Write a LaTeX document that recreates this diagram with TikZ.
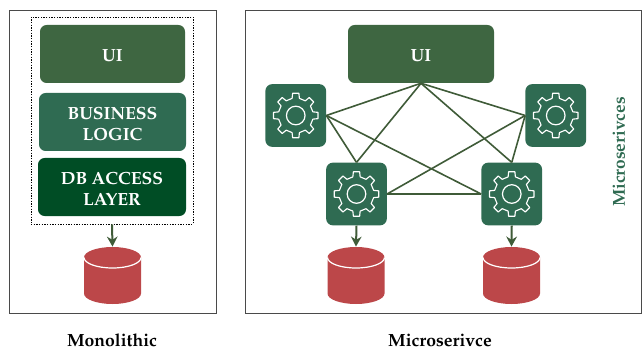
\documentclass[tikz,border=0pt]{standalone}
\usepackage[T1]{fontenc}
\usepackage{mathpazo}
\usetikzlibrary{arrows.meta}
\definecolor{uigreen}{HTML}{3E6641}
\definecolor{bizgreen}{HTML}{2F6B52}
\definecolor{dbgreen}{HTML}{004D25}
\definecolor{dbred}{HTML}{BC4749}
\definecolor{linkgreen}{HTML}{3F5B38}
\definecolor{framegrey}{HTML}{4A4A4A}
\newcommand\blockline[1]{\raisebox{-1.3pt}[\height][\depth]{#1}}
\tikzset{
  x=0.75pt,y=-0.75pt,
  frame/.style={draw=framegrey,line width=0.7pt,inner sep=0pt},
  block/.style={rounded corners=5pt,inner sep=0pt,text=white,align=center,font=\fontsize{13.2}{15.8}\selectfont\bfseries},
  gearbox/.style={fill=bizgreen,rounded corners=5pt,minimum width=45.5pt,minimum height=47pt,inner sep=0pt},
  dbnode/.style={minimum width=42.75pt,minimum height=43pt,inner sep=0pt},
  link/.style={draw=linkgreen,line width=1.2pt},
  flow/.style={draw=linkgreen,line width=1.5pt,-{Stealth[length=7.5pt,width=8pt]}},
  caption/.style={font=\fontsize{13.2}{16}\selectfont\bfseries,text=black},
  gear/.pic={
    \draw[white,line width=0.85pt,line join=round]
      (-12:17.5) \foreach \a in {0,45,...,315} {
        -- (\a-12:17.5) -- (\a-8:22.5) -- (\a+8:22.5) -- (\a+12:17.5)
      } -- cycle;
    \draw[white,line width=0.9pt] (0,0) circle[radius=9.3];
  },
  drum/.pic={
    \begin{scope}[y=0.75pt]
    \fill[dbred] (-28.5,18) -- (-28.5,-18) arc[start angle=180,end angle=360,x radius=28.5,y radius=10.5]
      -- (28.5,18) arc[start angle=0,end angle=180,x radius=28.5,y radius=10.5] -- cycle;
    \draw[white,line width=0.9pt] (-28.5,18) arc[start angle=180,end angle=360,x radius=28.5,y radius=10.5];
    \end{scope}
  }
}
\begin{document}
\begin{tikzpicture}
\useasboundingbox (0,0) rectangle (642,349);
\node[frame,minimum width=155.25pt,minimum height=227.25pt] (mono) at (112.5,161.5) {};
\node[frame,minimum width=297pt,minimum height=227.25pt] (micro) at (443,161.5) {};
\node[draw=black,dash pattern=on 0.9pt off 1.1pt,line width=0.5pt,minimum width=121.5pt,minimum height=155.25pt,inner sep=0pt] (layers) at (112,120.5) {};
\node[block,fill=uigreen,minimum width=108.75pt,minimum height=43.5pt] (ui1) at (112.5,54) {\blockline{UI}};
\node[block,fill=bizgreen,minimum width=110.25pt,minimum height=43.5pt] (biz) at (112.5,122) {\blockline{BUSINESS}\\\blockline{LOGIC}};
\node[block,fill=dbgreen,minimum width=111pt,minimum height=43.5pt] (dba) at (112,187) {\blockline{DB ACCESS}\\\blockline{LAYER}};
\node[dbnode] (db1) at (112.5,275.5) {};
\pic at (112.5,275.5) {drum};
\draw[flow] (layers.south) -- (db1.north);
\node[block,fill=uigreen,minimum width=109.5pt,minimum height=43.5pt] (ui2) at (421,54) {\blockline{UI}};
\node[gearbox] (tl) at (295.75,115.5) {};
\node[gearbox] (tr) at (555.75,115.5) {};
\node[gearbox] (bl) at (356.5,194) {};
\node[gearbox] (br) at (511.75,194) {};
\foreach \n in {tl,tr,bl,br} { \pic at (\n) {gear}; }
\draw[link] (ui2.south) -- (tl.east);
\draw[link] (ui2.south) -- (bl.north);
\draw[link] (ui2.south) -- (br.north);
\draw[link] (ui2.south) -- (tr.west);
\draw[link] (tl.east) -- (bl.north);
\draw[link] (tl.east) -- (br.west);
\draw[link] (tr.west) -- (br.north);
\draw[link] (tr.west) -- (bl.east);
\draw[link] (bl.east) -- (br.west);
\node[dbnode] (db2) at (356,275.5) {};
\node[dbnode] (db3) at (511.5,275.5) {};
\pic at (db2) {drum};
\pic at (db3) {drum};
\draw[flow] (bl.south) -- (db2.north);
\draw[flow] (br.south) -- (db3.north);
\node[rotate=90,font=\fontsize{13}{16}\selectfont\bfseries,text=bizgreen] (side) at (619,152) {Microserivces};
\node[caption] (capa) at (112,340) {Monolithic};
\node[caption] (capb) at (440,340) {Microserivce};
\end{tikzpicture}
\end{document}
